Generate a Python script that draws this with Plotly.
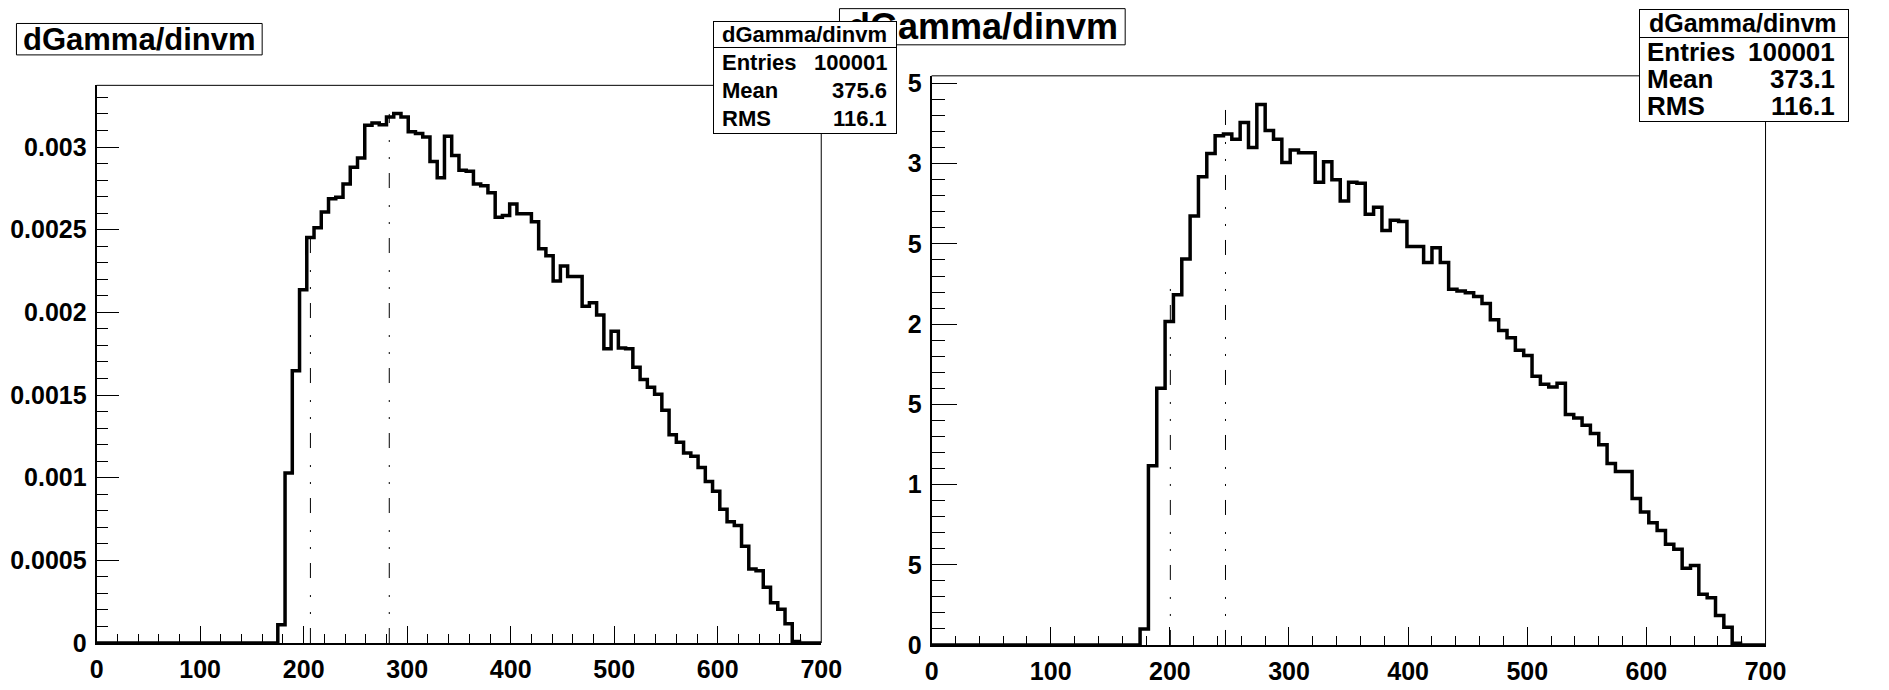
import plotly.graph_objects as go

W, H = 1889, 690

# ---------------- data ----------------
bin_low = 0
bin_width = 7
n_bins = 100

left_values = [0.0] * 25 + [
    0.00011, 0.001028, 0.001647, 0.002136, 0.002453, 0.002512, 0.002607, 0.002687,
    0.002696, 0.002776, 0.002877, 0.002934, 0.003131, 0.003145, 0.003135, 0.003181,
    0.003202, 0.003181, 0.003093, 0.003082, 0.003061, 0.002913, 0.002814, 0.003065,
    0.002949, 0.00286, 0.002854, 0.002776, 0.002765, 0.002723, 0.002575, 0.002586,
    0.002656, 0.002597, 0.002597, 0.002548, 0.002385, 0.002343, 0.002189, 0.00228,
    0.002217, 0.002217, 0.002037, 0.002058, 0.001984, 0.00178, 0.001885, 0.001784,
    0.00178, 0.001668, 0.001594, 0.001547, 0.001505, 0.001408, 0.00126, 0.001214,
    0.00115, 0.001129, 0.001062, 0.000977, 0.000918, 0.000809, 0.000733, 0.000711,
    0.000585, 0.000448, 0.000437, 0.000338, 0.000243, 0.000205, 0.000116, 0.00001,
    0.0, 0.0, 0.0,
]

right_values = [0.0] * 25 + [
    0.0001, 0.001118, 0.0016, 0.002016, 0.002183, 0.002406, 0.002674, 0.002919,
    0.003064, 0.003175, 0.003186, 0.003153, 0.003257, 0.003101, 0.003369, 0.003208,
    0.003153, 0.003008, 0.003086, 0.003068, 0.003068, 0.002885, 0.003012, 0.002901,
    0.002767, 0.002885, 0.002879, 0.002685, 0.002729, 0.002584, 0.002647, 0.00264,
    0.002484, 0.002484, 0.002384, 0.002477, 0.002384, 0.002217, 0.002206, 0.002195,
    0.002172, 0.002128, 0.002027, 0.001961, 0.001916, 0.001838, 0.001805, 0.001675,
    0.001626, 0.001609, 0.001631, 0.001437, 0.001415, 0.00137, 0.001319, 0.001248,
    0.001132, 0.001081, 0.001081, 0.000913, 0.000829, 0.000762, 0.000713, 0.000628,
    0.000597, 0.000479, 0.000495, 0.000316, 0.000294, 0.000183, 0.000111, 0.00001,
    0.0, 0.0, 0.0,
]

left_marker_x = [206.5, 282.7]
left_marker_top = [0.00249, 0.0032]
right_marker_x = [200.4, 246.7]
right_marker_top = [0.00227, 0.00334]

x_tick_vals = [0, 100, 200, 300, 400, 500, 600, 700]
y_tick_vals_left = [0, 0.0005, 0.001, 0.0015, 0.002, 0.0025, 0.003]
y_tick_text_left = ["0", "0.0005", "0.001", "0.0015", "0.002", "0.0025", "0.003"]
y_tick_vals_right = [0, 0.0005, 0.001, 0.0015, 0.002, 0.0025, 0.003, 0.0035]
# the right pad clips its y labels: only the last character of each stays visible
y_tick_text_right = ["0", "5", "1", "5", "2", "5", "3", "5"]

hist_title = "dGamma/dinvm"
stats_left = [("Entries", "100001"), ("Mean", "375.6"), ("RMS", "116.1")]
stats_right = [("Entries", "100001"), ("Mean", "373.1"), ("RMS", "116.1")]

# ---------------- helpers ----------------
FONT = "Liberation Sans, Arial, Helvetica, sans-serif"


def px(xp):
    return xp / W


def py(yp):
    return 1 - yp / H


edges = [bin_low + i * bin_width for i in range(n_bins + 1)]

fig = go.Figure()

DASHDOT = "15px,14px,2px,15px,2px,17px"

for vals, xa, ya in [(left_values, "x", "y"), (right_values, "x2", "y2")]:
    fig.add_trace(go.Scatter(
        x=edges, y=vals + [vals[-1]], mode="lines", line_shape="hv",
        line=dict(color="black", width=3.5), xaxis=xa, yaxis=ya, hoverinfo="skip"))

for mx, mt, xa, ya in [(left_marker_x, left_marker_top, "x", "y"),
                       (right_marker_x, right_marker_top, "x2", "y2")]:
    for xv, tv in zip(mx, mt):
        fig.add_trace(go.Scatter(
            x=[xv, xv], y=[0, tv], mode="lines",
            line=dict(color="black", width=1, dash=DASHDOT),
            xaxis=xa, yaxis=ya, hoverinfo="skip"))

tickfont = dict(family=FONT, size=25, color="black", weight="bold")


def xaxis_cfg(domain, yanchor, ylen):
    return dict(
        domain=domain, anchor=yanchor, range=[0, 700],
        tickmode="array", tickvals=x_tick_vals,
        ticks="inside", ticklen=round(0.03 * ylen), tickwidth=1, tickcolor="black",
        minor=dict(tickmode="linear", tick0=0, dtick=20, ticks="inside",
                   ticklen=round(0.015 * ylen), tickwidth=1, tickcolor="black"),
        showline=True, linecolor="black", linewidth=2, mirror=False,
        showgrid=False, zeroline=False, tickfont=tickfont,
        ticklabelstandoff=3, fixedrange=True)


def yaxis_cfg(domain, xanchor, yrange, tv, tt, xlen):
    return dict(
        domain=domain, anchor=xanchor, range=yrange,
        tickmode="array", tickvals=tv, ticktext=tt,
        ticks="inside", ticklen=round(0.03 * xlen), tickwidth=1, tickcolor="black",
        minor=dict(tickmode="linear", tick0=0, dtick=0.0001, ticks="inside",
                   ticklen=round(0.015 * xlen), tickwidth=1, tickcolor="black"),
        showline=True, linecolor="black", linewidth=2, mirror=False,
        showgrid=False, zeroline=False, tickfont=tickfont,
        ticklabelstandoff=3, fixedrange=True)


# frame pixel geometry
L = dict(x0=91, x1=826.5, y0=656, y1=80.8)
R = dict(x0=938.5, x1=1785, y0=658, y1=71)

fig.update_layout(
    width=W, height=H, margin=dict(l=0, r=0, t=0, b=0),
    paper_bgcolor="white", plot_bgcolor="white", showlegend=False,
    xaxis=xaxis_cfg([px(L["x0"]), px(L["x1"])], "y", L["y0"] - L["y1"]),
    yaxis=yaxis_cfg([py(L["y0"]), py(L["y1"])], "x", [0, 0.003373],
                    y_tick_vals_left, y_tick_text_left, L["x1"] - L["x0"]),
    xaxis2=xaxis_cfg([px(R["x0"]), px(R["x1"])], "y2", R["y0"] - R["y1"]),
    yaxis2=yaxis_cfg([py(R["y0"]), py(R["y1"])], "x2", [0, 0.003548],
                     y_tick_vals_right, y_tick_text_right, R["x1"] - R["x0"]),
)

shapes = []
# top & right frame lines (thin)
for F in (L, R):
    shapes.append(dict(type="line", xref="paper", yref="paper",
                       x0=px(F["x0"]), x1=px(F["x1"]), y0=py(F["y1"]), y1=py(F["y1"]),
                       line=dict(color="black", width=1)))
    shapes.append(dict(type="line", xref="paper", yref="paper",
                       x0=px(F["x1"]), x1=px(F["x1"]), y0=py(F["y0"]), y1=py(F["y1"]),
                       line=dict(color="black", width=1)))
# title boxes
shapes.append(dict(type="rect", xref="paper", yref="paper",
                   x0=px(9.6), x1=px(259), y0=py(49.4), y1=py(17),
                   fillcolor="white", line=dict(color="black", width=1)))
shapes.append(dict(type="rect", xref="paper", yref="paper",
                   x0=px(845), x1=px(1135), y0=py(39), y1=py(1.7),
                   fillcolor="white", line=dict(color="black", width=1)))
fig.update_layout(shapes=shapes)

ann = []


def text(x, y, s, size, xanchor="center", weight="bold"):
    ann.append(dict(xref="paper", yref="paper", x=px(x), y=py(y), text=s,
                    showarrow=False, xanchor=xanchor, yanchor="middle",
                    font=dict(family=FONT, size=size, color="black", weight=weight)))


def box(x0, y0, x1, y1):
    ann.append(dict(xref="paper", yref="paper", x=px(x0), y=py(y0), text=" ",
                    showarrow=False, xanchor="left", yanchor="top",
                    width=x1 - x0 - 2, height=y1 - y0 - 2, borderpad=0,
                    bgcolor="white", bordercolor="black", borderwidth=1,
                    font=dict(size=2)))


# titles
text(134, 33.5, hist_title, 31)
text(991, 20, hist_title, 36)

# left stats box
box(717, 14, 901, 42)
box(717, 41, 901, 128)
text(809, 28, hist_title, 22)
for i, (k, v) in enumerate(stats_left):
    yy = 57.5 + 28.5 * i
    text(724, yy, k, 22, "left")
    text(895, yy, v, 22, "right")

# right stats box
box(1657, 1.7, 1867, 32)
box(1657, 31, 1867, 116)
text(1762, 17, hist_title, 25)
for i, (k, v) in enumerate(stats_right):
    yy = 46 + 28 * i
    text(1663, yy, k, 26, "left")
    text(1858, yy, v, 26, "right")

fig.update_layout(annotations=ann)

POST = (
    "var s=document.createElement('style');"
    "s.innerHTML='html,body{margin:0;padding:0;overflow:hidden;}';"
    "document.head.appendChild(s);"
    "var gd=document.getElementById('{plot_id}');"
    "Plotly.relayout(gd,{width:1889,height:690});"
)

fig.write_html(
    "out.html",
    config={"displayModeBar": False, "responsive": False},
    post_script=POST,
)
